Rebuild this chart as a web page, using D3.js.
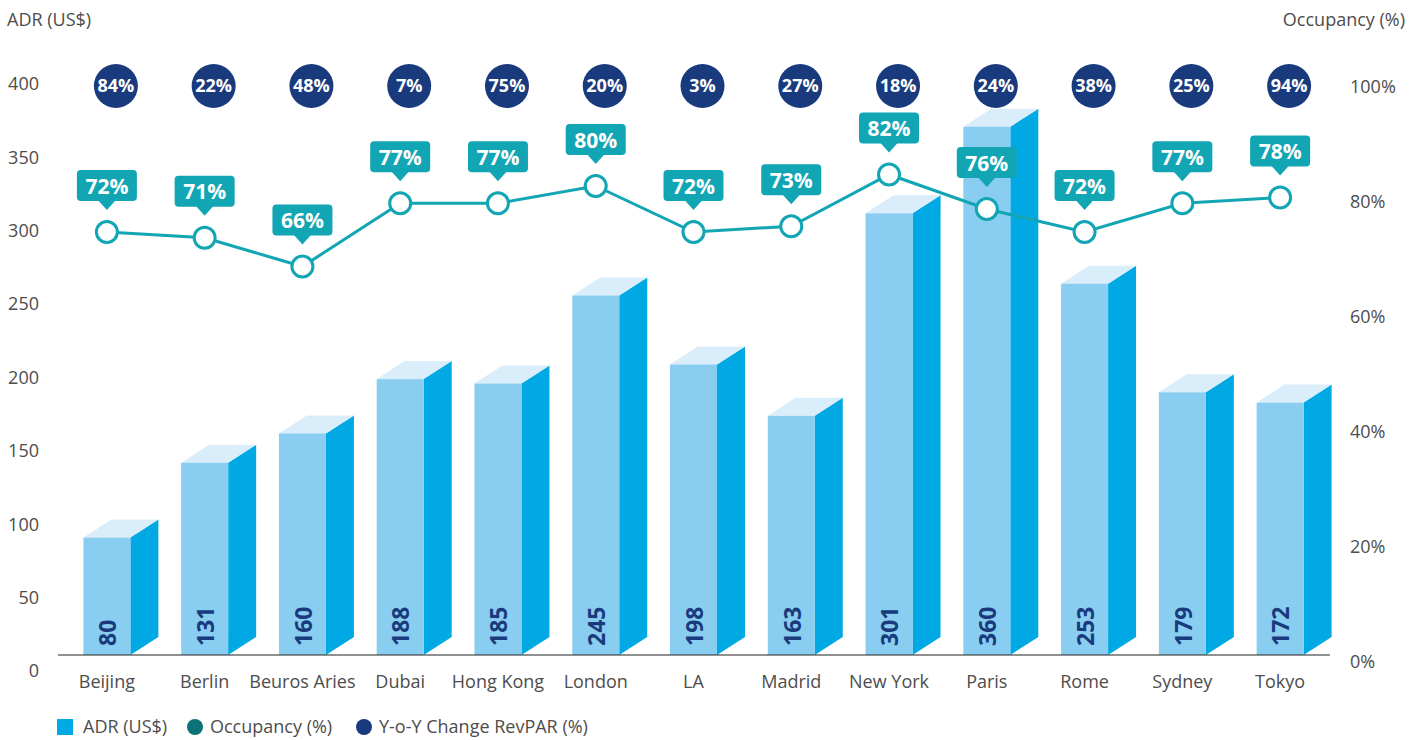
<!DOCTYPE html>
<html lang="en">
<head>
<meta charset="utf-8">
<title>ADR and Occupancy by City</title>
<script src="https://cdn.jsdelivr.net/npm/d3@7"></script>
<style>
  body { margin: 0; background: #fff; font-family: "Open Sans", Arial, sans-serif; }
  .tick-label { font-size: 18px; fill: #4d4d4d; }
  .cat-label { font-size: 18px; fill: #4d4d4d; }
</style>
</head>
<body>
<script>
// chart data
var cities = ["Beijing", "Berlin", "Beuros Aries", "Dubai", "Hong Kong", "London", "LA", "Madrid", "New York", "Paris", "Rome", "Sydney", "Tokyo"];
// printed ADR labels
var adr = [80, 131, 160, 188, 185, 245, 198, 163, 301, 360, 253, 179, 172];
// drawn bar heights (Beuros Aries bar is drawn shorter than its label)
var adrBar = [80, 131, 151, 188, 185, 245, 198, 163, 301, 360, 253, 179, 172];
var occupancy = [72, 71, 66, 77, 77, 80, 72, 73, 82, 76, 72, 77, 78];
var revpar = [84, 22, 48, 7, 75, 20, 3, 27, 18, 24, 38, 25, 94];
var adrTicks = [0, 50, 100, 150, 200, 250, 300, 350, 400];
var occTicks = [0, 20, 40, 60, 80, 100];

var w = 1424, h = 740;
var base = 655;

var svg = d3.select("body").append("svg")
  .attr("width", w).attr("height", h);

var x = d3.scaleBand().domain(cities).range([58, 1329]);
var yAdr = d3.scaleLinear().domain([0, 400]).range([base, 68]);
var yOcc = d3.scaleLinear().domain([0, 100]).range([646, 71]);

var teal = "#12a5b4", navy = "#193a7c";
var faceW = 47, dx = 28, dy = -18;

// axis titles
svg.append("text").attr("x", 7).attr("y", 26).attr("class", "tick-label").text("ADR (US$)");
svg.append("text").attr("x", 1405).attr("y", 26).attr("text-anchor", "end").attr("class", "tick-label").text("Occupancy (%)");

// left tick labels
svg.selectAll(".ladr").data(adrTicks).enter().append("text")
  .attr("class", "tick-label")
  .attr("x", 39).attr("y", function(d) { return yAdr(d) + 16; })
  .attr("dy", "0.35em").attr("text-anchor", "end")
  .text(function(d) { return d; });

// right tick labels
svg.selectAll(".locc").data(occTicks).enter().append("text")
  .attr("class", "tick-label")
  .attr("x", 1350).attr("y", function(d) { return yOcc(d) + 16; })
  .attr("dy", "0.35em")
  .text(function(d) { return d + "%"; });

// 3D bars
var bars = svg.selectAll(".bar").data(cities).enter().append("g")
  .attr("class", "bar");

bars.each(function(c, i) {
  var g = d3.select(this);
  var cx = x(c) + x.bandwidth() / 2;
  var x0 = cx - faceW / 2, x1 = cx + faceW / 2;
  var top = yAdr(adrBar[i]);
  // side
  g.append("path")
    .attr("d", "M" + x1 + "," + base + "L" + (x1 + dx) + "," + (base + dy) +
      "L" + (x1 + dx) + "," + (top + dy) + "L" + x1 + "," + top + "Z")
    .attr("fill", "#00a9e4");
  // top
  g.append("path")
    .attr("d", "M" + x0 + "," + top + "L" + (x0 + dx) + "," + (top + dy) +
      "L" + (x1 + dx) + "," + (top + dy) + "L" + x1 + "," + top + "Z")
    .attr("fill", "#d9edfa");
  // front
  g.append("rect")
    .attr("x", x0).attr("y", top).attr("width", faceW).attr("height", base - top)
    .attr("fill", "#89cef1");
  // value
  g.append("text")
    .attr("transform", "translate(" + (cx + 1) + "," + (base - 9) + ") rotate(-90)")
    .attr("dy", "0.36em")
    .attr("font-size", "23px").attr("font-weight", "bold").attr("fill", navy)
    .text(adr[i]);
});

// baseline
svg.append("line").attr("x1", 58).attr("x2", 1330).attr("y1", base).attr("y2", base)
  .attr("stroke", "#222").attr("stroke-width", 1.2);

// category labels
svg.selectAll(".cat-label").data(cities).enter().append("text")
  .attr("class", "cat-label")
  .attr("x", function(d) { return x(d) + x.bandwidth() / 2; })
  .attr("y", 682).attr("dy", "0.35em").attr("text-anchor", "middle")
  .text(function(d) { return d; });

// occupancy line
var line = d3.line()
  .x(function(d, i) { return x(cities[i]) + x.bandwidth() / 2; })
  .y(function(d) { return yOcc(d); });

svg.append("path").datum(occupancy)
  .attr("d", line).attr("fill", "none")
  .attr("stroke", teal).attr("stroke-width", 3);

svg.selectAll(".occ-dot").data(occupancy).enter().append("circle")
  .attr("cx", function(d, i) { return x(cities[i]) + x.bandwidth() / 2; })
  .attr("cy", function(d) { return yOcc(d); })
  .attr("r", 10.5).attr("fill", "#fff")
  .attr("stroke", teal).attr("stroke-width", 3);

// callouts
var callouts = svg.selectAll(".callout").data(occupancy).enter().append("g")
  .attr("transform", function(d, i) {
    return "translate(" + (x(cities[i]) + x.bandwidth() / 2) + "," + yOcc(d) + ")";
  });
callouts.append("rect")
  .attr("x", -30).attr("y", -62).attr("width", 60).attr("height", 31)
  .attr("rx", 4).attr("fill", teal);
callouts.append("path")
  .attr("d", "M-9,-32L0,-22L9,-32Z").attr("fill", teal);
callouts.append("text")
  .attr("y", -46).attr("dy", "0.36em").attr("text-anchor", "middle")
  .attr("font-size", "21px").attr("font-weight", "bold").attr("fill", "#fff")
  .text(function(d) { return d + "%"; });

// revpar badges
var badges = svg.selectAll(".badge").data(revpar).enter().append("g")
  .attr("transform", function(d, i) {
    return "translate(" + (x(cities[i]) + x.bandwidth() / 2 + 9) + ",86)";
  });
badges.append("circle").attr("r", 22).attr("fill", navy);
badges.append("text")
  .attr("dy", "0.36em").attr("text-anchor", "middle")
  .attr("font-size", "18px").attr("font-weight", "bold").attr("fill", "#fff")
  .text(function(d) { return d + "%"; });

// legend
var lg = svg.append("g").attr("transform", "translate(0,727)");
lg.append("rect").attr("x", 57).attr("y", -8).attr("width", 16).attr("height", 16).attr("fill", "#00a9e4");
lg.append("text").attr("x", 83).attr("dy", "0.35em").attr("class", "tick-label").text("ADR (US$)");
lg.append("circle").attr("cx", 195).attr("r", 8).attr("fill", "#0e7177");
lg.append("text").attr("x", 210).attr("dy", "0.35em").attr("class", "tick-label").text("Occupancy (%)");
lg.append("circle").attr("cx", 364).attr("r", 8).attr("fill", navy);
lg.append("text").attr("x", 379).attr("dy", "0.35em").attr("class", "tick-label").text("Y-o-Y Change RevPAR (%)");
</script>
</body>
</html>
